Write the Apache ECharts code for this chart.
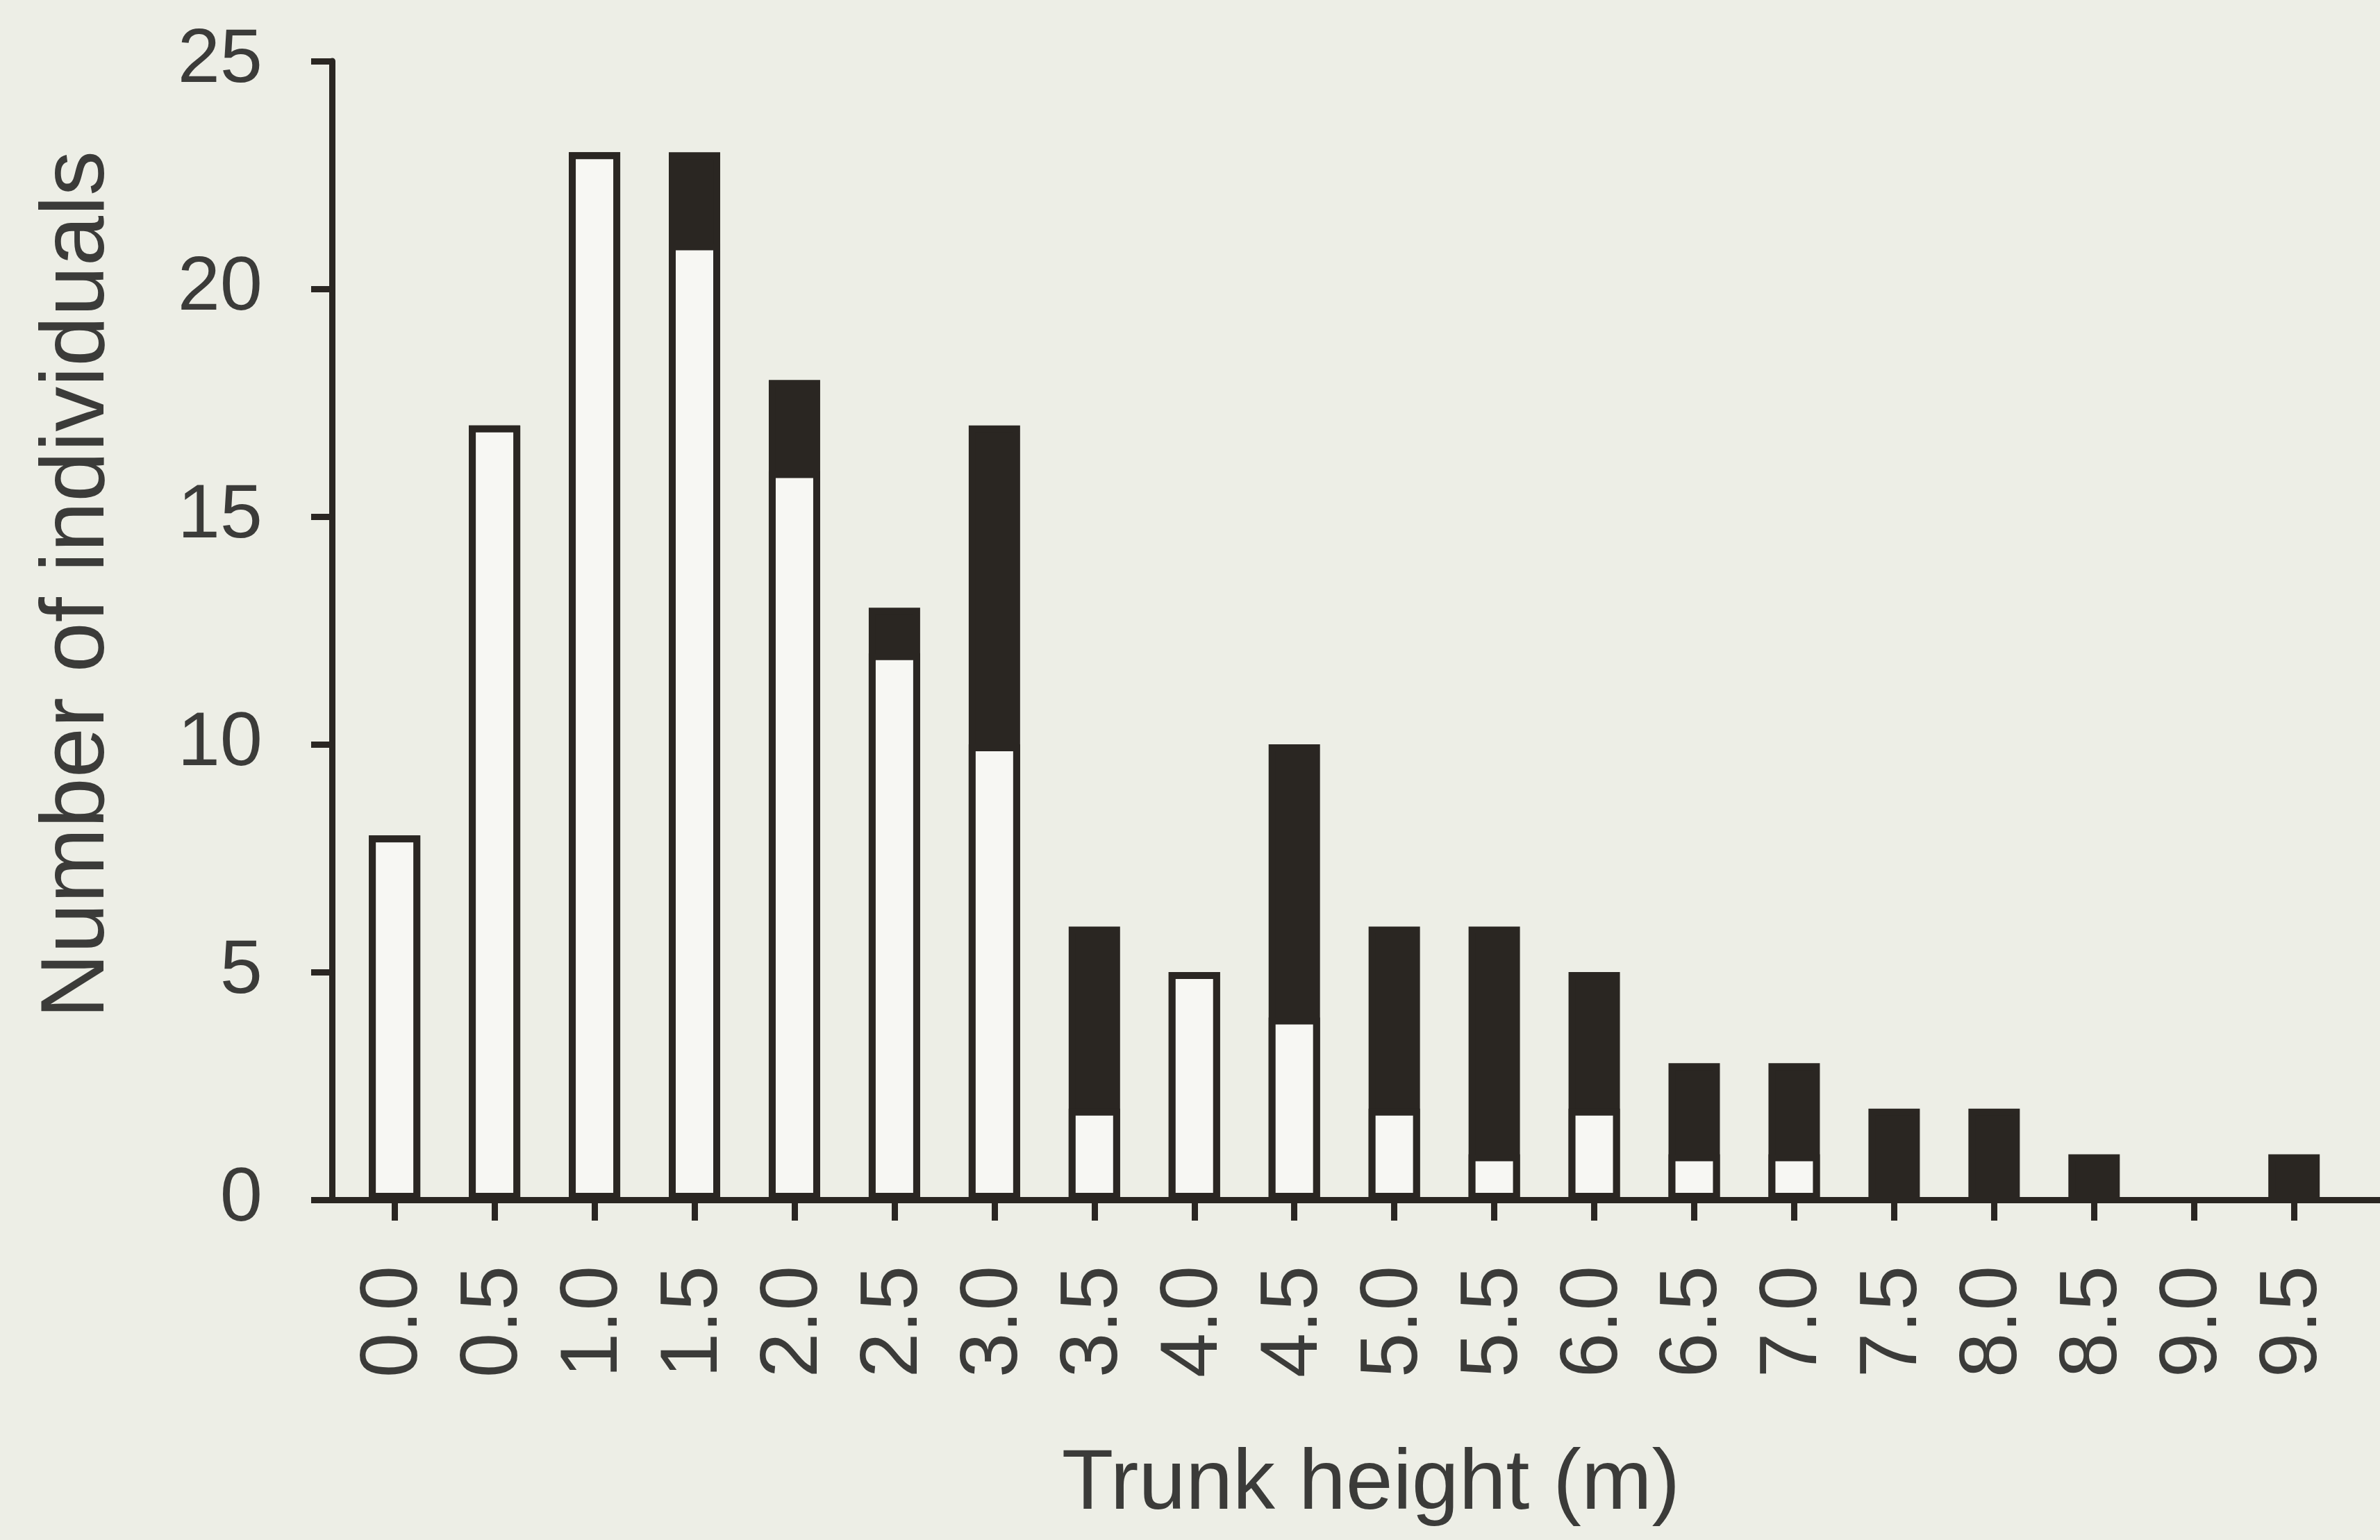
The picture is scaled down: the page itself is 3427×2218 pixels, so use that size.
<!DOCTYPE html>
<html>
<head>
<meta charset="utf-8">
<script src="https://cdn.jsdelivr.net/npm/echarts@6/dist/echarts.min.js"></script>
<style>
html,body{margin:0;padding:0;background:#edeee6;}
#chart{width:3427px;height:2218px;}
</style>
</head>
<body>
<div id="chart"></div>
<script>
// Trunk height classes (m) – tick labels
const heightLabels = ['0.0','0.5','1.0','1.5','2.0','2.5','3.0','3.5','4.0','4.5','5.0','5.5','6.0','6.5','7.0','7.5','8.0','8.5','9.0','9.5'];
// White (open) part of each bar
const openCounts   = [8, 17, 23, 21, 16, 12, 10, 2, 5, 4, 2, 1, 2, 1, 1, 0, 0, 0, 0, 0];
// Black (filled) part stacked on top
const filledCounts = [0, 0, 0, 2, 2, 1, 7, 4, 0, 6, 4, 5, 3, 2, 2, 2, 2, 1, 0, 1];
// Y axis ticks
const yTicks = [0, 5, 10, 15, 20, 25];

const tickValues = heightLabels.map(Number);
const totalData = tickValues.map((x, i) => {
  const t = openCounts[i] + filledCounts[i];
  return [x, t > 0 ? t : null];
});
const openData = tickValues.map((x, i) => [x, openCounts[i] > 0 ? openCounts[i] : null]);

const dark = '#2a2622';
const textCol = '#3b3b39';
const font = 'Liberation Sans, Arial, Helvetica, sans-serif';

const chart = echarts.init(document.getElementById('chart'));
chart.setOption({
  backgroundColor: '#edeee6',
  animation: false,
  grid: { left: 453, right: 0, top: 88, bottom: 490, containLabel: false },
  xAxis: {
    type: 'value',
    min: -0.4,
    max: 9.93,
    splitLine: { show: false },
    axisLine: { show: true, onZero: false, lineStyle: { color: dark, width: 9 } },
    axisTick: { show: true, customValues: tickValues, length: 30, lineStyle: { color: dark, width: 9 } },
    axisLabel: {
      customValues: tickValues,
      rotate: 90,
      margin: 95,
      fontSize: 116,
      fontFamily: font,
      color: textCol,
      formatter: v => heightLabels[tickValues.indexOf(v)] ?? v.toFixed(1)
    },
    name: 'Trunk height (m)',
    nameLocation: 'middle',
    nameGap: 350,
    nameTextStyle: { fontSize: 122, fontFamily: font, color: textCol, padding: [0, 0, 0, 68] }
  },
  yAxis: {
    type: 'value',
    min: yTicks[0],
    max: yTicks[yTicks.length - 1],
    interval: 5,
    offset: -25,
    splitLine: { show: false },
    axisLine: { show: true, onZero: false, lineStyle: { color: dark, width: 9 } },
    axisTick: { show: true, length: 30, lineStyle: { color: dark, width: 9 } },
    axisLabel: { margin: 100, fontSize: 110, fontFamily: font, color: textCol },
    name: 'Number of individuals',
    nameLocation: 'middle',
    nameGap: 300,
    nameTextStyle: { fontSize: 130, fontFamily: font, color: textCol, padding: [0, 0, 0, 132] }
  },
  series: [
    {
      name: 'filled',
      type: 'bar',
      data: totalData,
      barWidth: 74,
      barGap: '-100%',
      itemStyle: { color: dark, borderColor: dark, borderWidth: 10 }
    },
    {
      name: 'open',
      type: 'bar',
      data: openData,
      barWidth: 74,
      barGap: '-100%',
      itemStyle: { color: '#f7f7f3', borderColor: dark, borderWidth: 10 }
    }
  ]
});
</script>
</body>
</html>
